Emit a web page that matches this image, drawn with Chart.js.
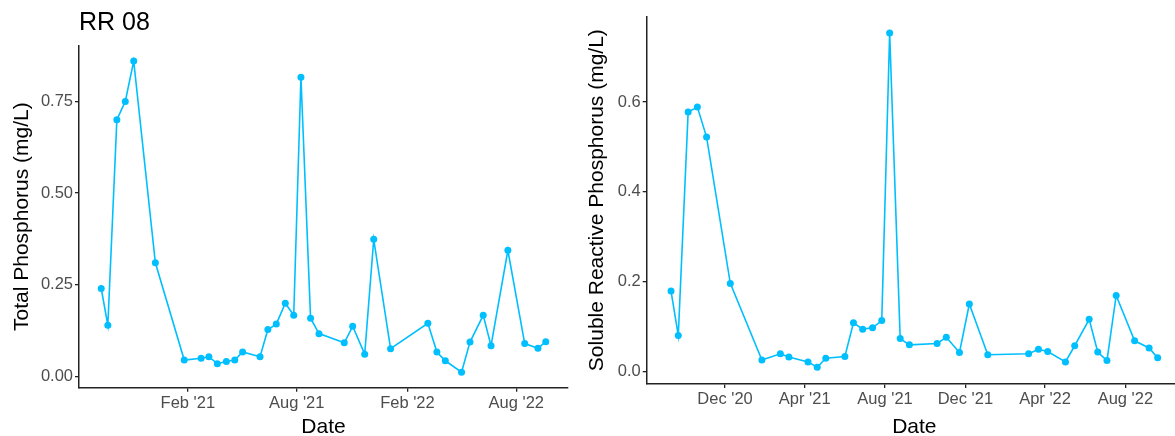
<!DOCTYPE html>
<html>
<head>
<meta charset="utf-8">
<script src="https://cdn.jsdelivr.net/npm/chart.js@4.4.1/dist/chart.umd.min.js"></script>
<style>
  html, body { margin: 0; padding: 0; background: #ffffff; overflow: hidden; width: 1175px; height: 436px; }
  #wrap { position: relative; width: 1175px; height: 436px; overflow: hidden; }
  canvas { position: absolute; top: 0; }
  #tpChart { left: 0; }
  #srpChart { left: 580px; }
</style>
</head>
<body>
<div id="wrap">
  <canvas id="tpChart" width="580" height="440"></canvas>
  <canvas id="srpChart" width="612" height="440"></canvas>
</div>
<script>
// Site and sampling record
const siteName = 'RR 08';

const sampleDates = [
  '2020-09-10', '2020-09-21', '2020-10-06', '2020-10-20', '2020-11-03', '2020-12-09',
  '2021-01-26', '2021-02-23', '2021-03-08', '2021-03-22', '2021-04-06', '2021-04-20',
  '2021-05-03', '2021-06-01', '2021-06-14', '2021-06-28', '2021-07-13', '2021-07-27',
  '2021-08-08', '2021-08-24', '2021-09-07', '2021-10-19', '2021-11-02', '2021-11-22',
  '2021-12-07', '2022-01-04', '2022-03-07', '2022-03-22', '2022-04-05', '2022-05-02',
  '2022-05-16', '2022-06-07', '2022-06-20', '2022-07-04', '2022-07-18', '2022-08-15',
  '2022-09-06', '2022-09-19'
];

// Total phosphorus (mg/L); null = not sampled
const totalPhosphorus = [
  0.24, 0.14, 0.70, 0.75, 0.86, 0.31,
  0.045, 0.050, 0.054, 0.035, 0.041, 0.045,
  0.067, 0.054, 0.128, 0.143, 0.20, 0.167,
  0.816, 0.159, 0.117, 0.092, 0.137, 0.061,
  0.374, 0.076, 0.145, 0.067, 0.043, 0.012,
  0.094, 0.167, 0.084, null, 0.344, 0.090,
  0.077, 0.095
];

// Soluble reactive phosphorus (mg/L); null = not sampled
const solubleReactiveP = [
  0.179, 0.080, 0.578, 0.589, 0.522, 0.196,
  0.025, 0.039, 0.032, null, 0.021, 0.009,
  0.029, 0.033, 0.108, 0.094, 0.097, 0.113,
  0.754, 0.073, 0.059, 0.062, 0.076, 0.042,
  0.150, 0.037, 0.039, 0.049, 0.044, 0.021,
  0.057, 0.116, 0.043, 0.024, 0.169, 0.068,
  0.052, 0.030
];

// Axis ticks
const tpTickDates = ['2021-02-01', '2021-08-01', '2022-02-01', '2022-08-01'];
const tpTickLabels = ["Feb '21", "Aug '21", "Feb '22", "Aug '22"];
const srpTickDates = ['2020-12-01', '2021-04-01', '2021-08-01', '2021-12-01', '2022-04-01', '2022-08-01'];
const srpTickLabels = ["Dec '20", "Apr '21", "Aug '21", "Dec '21", "Apr '22", "Aug '22"];
const tpValueTicks = [0, 0.25, 0.5, 0.75];
const srpValueTicks = [0, 0.2, 0.4, 0.6];

const FONT = "'Liberation Sans', Arial, Helvetica, sans-serif";
const LINE_COLOR = '#00BFFF';
const AXIS_COLOR = '#222222';
const TICK_TEXT = '#4D4D4D';

Chart.defaults.font.family = FONT;

const dayNum = d => Date.parse(d + 'T00:00:00Z') / 86400000;

// 5% padding on each side of the data range
function expandRange(values) {
  const lo = Math.min(...values), hi = Math.max(...values);
  const pad = (hi - lo) * 0.05;
  return [lo - pad, hi + pad];
}

function makePanel(canvasId, values, cfg) {
  const pts = [];
  sampleDates.forEach((d, i) => {
    if (values[i] !== null) pts.push({ x: dayNum(d), y: values[i] });
  });
  const [xMin, xMax] = expandRange(pts.map(p => p.x));
  const [yMin, yMax] = expandRange(pts.map(p => p.y));
  const xLabelMap = new Map(cfg.xTickDates.map((d, i) => [dayNum(d), cfg.xTickLabels[i]]));

  return new Chart(document.getElementById(canvasId), {
    type: 'line',
    data: {
      datasets: [{
        data: pts,
        borderColor: LINE_COLOR,
        backgroundColor: LINE_COLOR,
        borderWidth: 1.6,
        pointRadius: 3.5,
        pointBorderWidth: 0,
        pointBackgroundColor: LINE_COLOR,
        tension: 0,
        fill: false
      }]
    },
    options: {
      responsive: false,
      animation: false,
      devicePixelRatio: 1,
      layout: { padding: cfg.padding },
      plugins: {
        legend: { display: false },
        tooltip: { enabled: false },
        title: cfg.title
      },
      scales: {
        x: {
          type: 'linear',
          position: 'bottom',
          min: xMin,
          max: xMax,
          afterBuildTicks: s => { s.ticks = cfg.xTickDates.map(d => ({ value: dayNum(d) })); },
          afterFit: s => { s.height = cfg.xAxisHeight; },
          ticks: {
            autoSkip: false,
            maxRotation: 0,
            color: TICK_TEXT,
            font: { size: 16.5 },
            padding: 2,
            callback: v => xLabelMap.get(v) ?? ''
          },
          grid: { drawOnChartArea: false, drawTicks: true, tickLength: 4, color: AXIS_COLOR, lineWidth: 1.3 },
          border: { display: true, color: AXIS_COLOR, width: 1.5 },
          title: { display: true, text: 'Date', color: '#000000', font: { size: 21 }, padding: { top: 0, bottom: 0 } }
        },
        y: {
          type: 'linear',
          min: yMin,
          max: yMax,
          afterBuildTicks: s => { s.ticks = cfg.yTicks.map(v => ({ value: v })); },
          afterFit: s => { s.width = cfg.yAxisWidth; },
          ticks: {
            color: TICK_TEXT,
            font: { size: 16.5 },
            padding: 2,
            callback: v => v.toFixed(cfg.yDecimals)
          },
          grid: { drawOnChartArea: false, drawTicks: true, tickLength: 4, color: AXIS_COLOR, lineWidth: 1.3 },
          border: { display: true, color: AXIS_COLOR, width: 1.5 },
          title: { display: true, text: cfg.yTitle, color: '#000000', font: { size: 21 }, padding: { top: cfg.yTitlePad, bottom: 0 } }
        }
      }
    }
  });
}

makePanel('tpChart', totalPhosphorus, {
  xTickDates: tpTickDates,
  xTickLabels: tpTickLabels,
  yTicks: tpValueTicks,
  yDecimals: 2,
  yTitle: 'Total Phosphorus (mg/L)',
  yTitlePad: 9.4,
  yAxisWidth: 79,
  xAxisHeight: 52.3,
  padding: { left: 0, right: 12, top: 0, bottom: 0 },
  title: {
    display: true,
    text: siteName,
    align: 'start',
    fullSize: false,
    color: '#000000',
    font: { size: 25, weight: 'normal' },
    padding: { top: 8, bottom: 7.5 }
  }
});

makePanel('srpChart', solubleReactiveP, {
  xTickDates: srpTickDates,
  xTickLabels: srpTickLabels,
  yTicks: srpValueTicks,
  yDecimals: 1,
  yTitle: 'Soluble Reactive Phosphorus (mg/L)',
  yTitlePad: 4.4,
  yAxisWidth: 66.7,
  xAxisHeight: 56,
  padding: { left: 0, right: 10, top: 16.3, bottom: 0 },
  title: { display: false }
});
</script>
</body>
</html>
